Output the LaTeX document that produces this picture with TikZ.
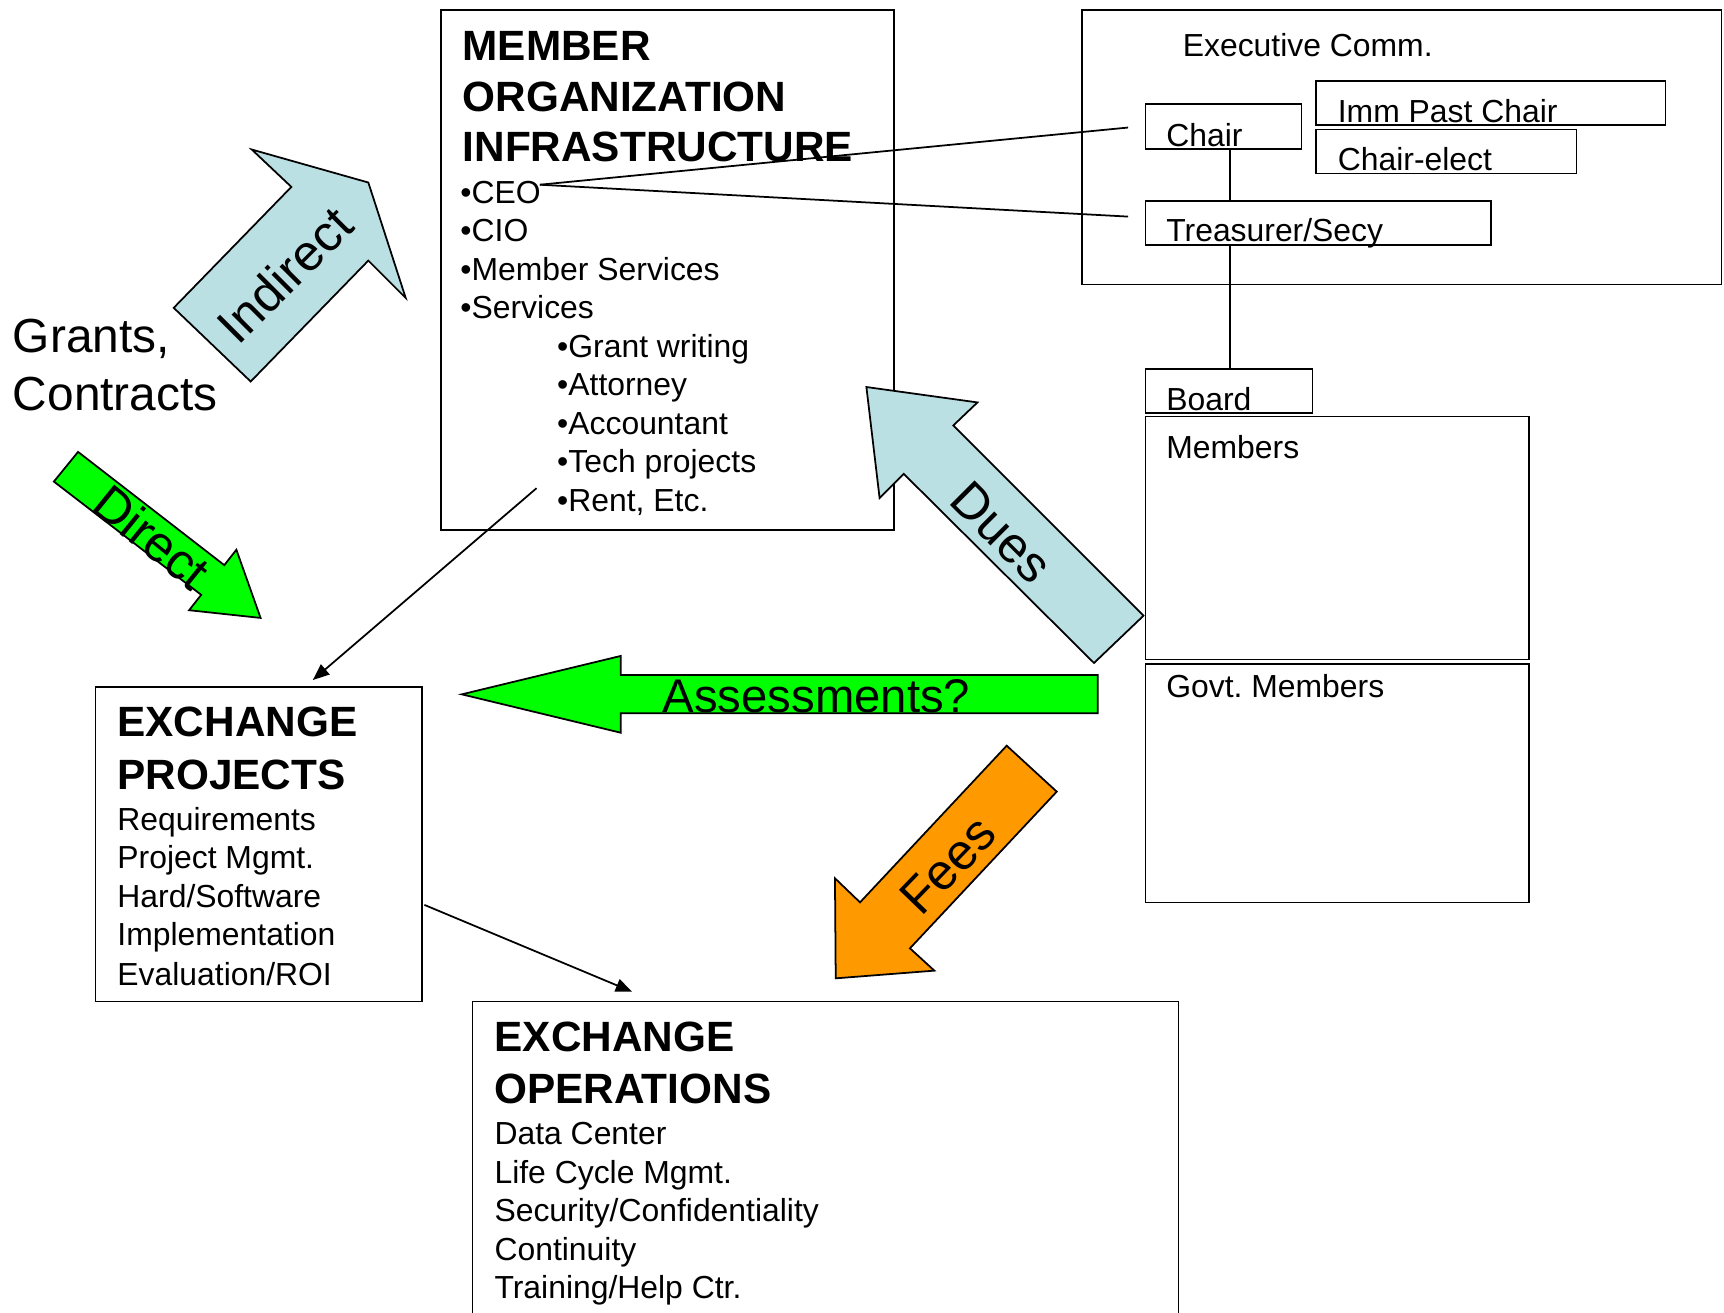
\documentclass[tikz,border=0pt]{standalone}
\usepackage{fontspec}
\setmainfont{Liberation Sans}
\usetikzlibrary{arrows.meta}
\definecolor{lblue}{HTML}{BBE0E3}
\definecolor{lgreen}{HTML}{00FF00}
\definecolor{lorange}{HTML}{FF9900}
\frenchspacing
\begin{document}
\begin{tikzpicture}[x=1pt,y=-1pt,line width=1.6pt,
  box/.style={draw,line width=1.6pt,inner sep=0pt,anchor=north west},
  txt/.style={inner sep=0pt,anchor=base west,font=\fontsize{29}{35}\selectfont},
  ttl/.style={inner sep=0pt,anchor=base west,font=\fontsize{38.5}{46}\selectfont\bfseries},
  bigtxt/.style={inner sep=0pt,anchor=base west,font=\fontsize{43.5}{50}\selectfont},
  lbl/.style={inner sep=0pt,font=\fontsize{46}{50}\selectfont},
  blk/.style={draw,line width=1.6pt,line join=miter},
  conn/.style={line width=1.6pt},
  arr/.style={line width=1.6pt,-{Triangle[length=15pt,width=12pt]}}]
\useasboundingbox (0,0) rectangle (1568,1194);

% ---------- boxes ----------
\node[box,minimum width=582pt,minimum height=250pt] (exec) at (983,8) {};
\node[box,minimum width=142pt,minimum height=41pt] (chair) at (1041,94) {};
\node[box,minimum width=318pt,minimum height=40pt] (imm) at (1196,73) {};
\node[box,minimum width=237pt,minimum height=40pt] (elect) at (1196,117) {};
\node[box,minimum width=314pt,minimum height=40pt] (treas) at (1041,182) {};
\node[box,minimum width=152pt,minimum height=40pt] (board) at (1041,335) {};
\node[box,minimum width=349pt,minimum height=221pt] (members) at (1041,378) {};
\node[box,minimum width=349pt,minimum height=217pt] (govt) at (1041,603) {};
\node[box,minimum width=412pt,minimum height=473pt] (mo) at (400,8) {};
\node[box,minimum width=297pt,minimum height=286pt] (ep) at (86,624) {};
\node[box,minimum width=642pt,minimum height=330pt] (eo) at (429,910) {};

% ---------- exec texts ----------
\node[txt] (execT) at (1075,51) {Executive Comm.};
\node[txt] (chairT) at (1060,133) {Chair};
\node[txt] (immT) at (1216,111) {Imm Past Chair};
\node[txt] (electT) at (1216,155) {Chair-elect};
\node[txt] (treasT) at (1060,220) {Treasurer/Secy};
\node[txt] (boardT) at (1060,373) {Board};
\node[txt] (membersT) at (1060,417) {Members};
\node[txt] (govtT) at (1060,634) {Govt. Members};

% ---------- grants ----------
\node[bigtxt] (grants) at (11,321) {Grants,};
\node[bigtxt] (contracts) at (11,373) {Contracts};

% ---------- member organization ----------
\node[ttl] (moT1) at (420,55) {MEMBER};
\node[ttl] (moT2) at (420,101) {ORGANIZATION};
\node[ttl] (moT3) at (420,147) {INFRASTRUCTURE};
\node[txt] (ceo) at (418,185) {•CEO};
\node[txt] (cio) at (418,220) {•CIO};
\node[txt] (msv) at (418,255) {•Member Services};
\node[txt] (svc) at (418,290) {•Services};
\node[txt] (grw) at (506,325) {•Grant writing};
\node[txt] (att) at (506,360) {•Attorney};
\node[txt] (acc) at (506,395) {•Accountant};
\node[txt] (tech) at (506,430) {•Tech projects};
\node[txt] (rent) at (506,465) {•Rent, Etc.};

% ---------- exchange projects ----------
\node[ttl] (epT1) at (106,670) {EXCHANGE};
\node[ttl] (epT2) at (106,718) {PROJECTS};
\node[txt] (ep1) at (106,755) {Requirements};
\node[txt] (ep2) at (106,790) {Project Mgmt.};
\node[txt] (ep3) at (106,825) {Hard/Software};
\node[txt] (ep4) at (106,860) {Implementation};
\node[txt] (ep5) at (106,896) {Evaluation/ROI};

% ---------- exchange operations ----------
\node[ttl] (eoT1) at (449,956) {EXCHANGE};
\node[ttl] (eoT2) at (449,1004) {OPERATIONS};
\node[txt] (eo1) at (449,1041) {Data Center};
\node[txt] (eo2) at (449,1076) {Life Cycle Mgmt.};
\node[txt] (eo3) at (449,1111) {Security/Confidentiality};
\node[txt] (eo4) at (449,1146) {Continuity};
\node[txt] (eo5) at (449,1181) {Training/Help Ctr.};

% ---------- connectors ----------
\coordinate (ceoEnd) at (491,168);
\coordinate (chairIn) at (1026,116);
\coordinate (treasIn) at (1026,197);
\draw[conn] (ceoEnd) -- (chairIn);
\draw[conn] (ceoEnd) -- (treasIn);
\coordinate (c1) at (1119,135);
\coordinate (c2) at (1119,182);
\coordinate (c3) at (1119,222);
\coordinate (c4) at (1119,335);
\draw[conn] (c1) -- (c2);
\draw[conn] (c3) -- (c4);
\coordinate (moOut) at (488,444);
\coordinate (epIn) at (284.5,618.5);
\draw[arr] (moOut) -- (epIn);
\coordinate (epOut) at (386,823);
\coordinate (eoIn) at (575,902);
\draw[arr] (epOut) -- (eoIn);

% ---------- block arrows ----------
\draw[blk,fill=lblue] (229,136) -- (335,166) -- (369,271) -- (335,237) -- (228,347) -- (158,280) -- (265,170) -- cycle;
\node[lbl,rotate=45] (indirect) at (259,250) {Indirect};

\draw[blk,fill=lgreen] (71,411) -- (204,514) -- (215,500) -- (237,562) -- (172,555) -- (183,541) -- (49,438) -- cycle;
\node[lbl,rotate=-39] (direct) at (138,488) {Direct};

\draw[blk,fill=lblue] (788,352) -- (889,366) -- (867,387) -- (1040,560) -- (995,603) -- (822,431) -- (800,453) -- cycle;
\node[lbl,rotate=-45] (dues) at (911,484) {Dues};

\draw[blk,fill=lorange] (915.6,678.2) -- (961.1,720) -- (827.6,862.5) -- (849.8,882.8) -- (760.1,889.8) -- (759.4,798.8) -- (782.2,820.7) -- cycle;
\node[lbl,rotate=46] (fees) at (862,787) {Fees};

\draw[blk,fill=lgreen] (420,631.5) -- (564.5,596.6) -- (564.5,613.9) -- (998.3,613.9) -- (998.3,648.8) -- (564.5,648.8) -- (564.5,666.4) -- cycle;
\node[inner sep=0pt,anchor=base,font=\fontsize{43}{48}\selectfont] (assess) at (742.5,648) {Assessments?};
\end{tikzpicture}
\end{document}
